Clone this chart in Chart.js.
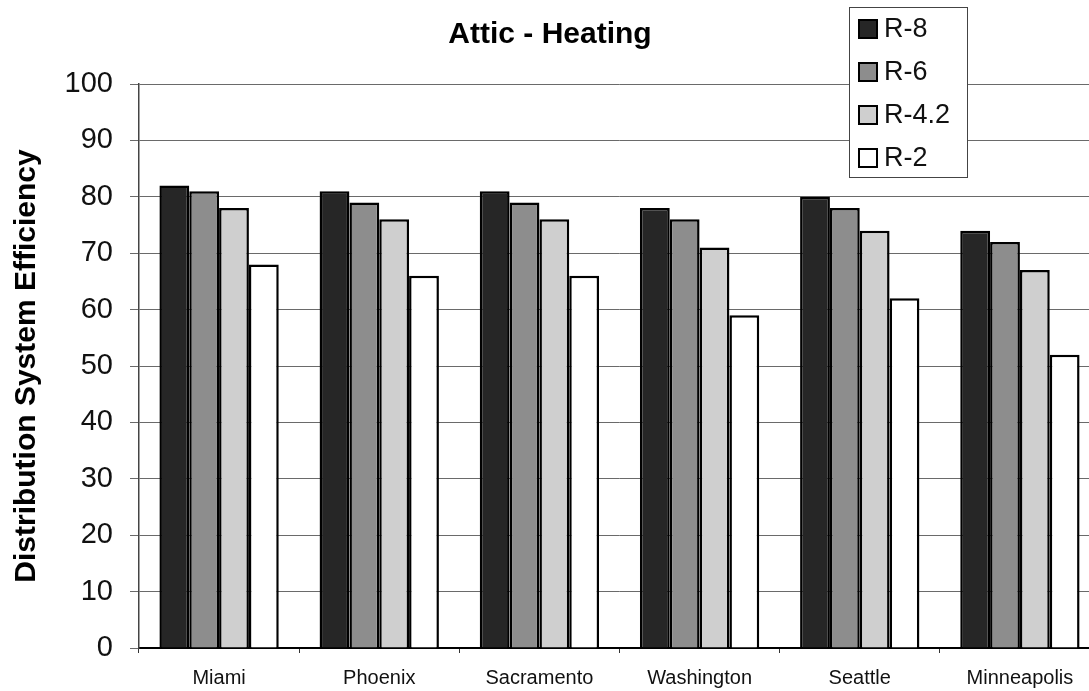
<!DOCTYPE html>
<html>
<head>
<meta charset="utf-8">
<title>Attic - Heating</title>
<script src="https://cdn.jsdelivr.net/npm/chart.js@4.4.1/dist/chart.umd.min.js"></script>
<style>
    html, body { margin: 0; padding: 0; background: #fff; overflow: hidden; }
    #wrap { position: absolute; left: 0; top: 0; width: 1100px; height: 691px; }
</style>
</head>
<body>
<div id="wrap"><canvas id="myChart" width="1100" height="691"></canvas></div>
<script>
// Dados do grafico
const cities = ['Miami', 'Phoenix', 'Sacramento', 'Washington', 'Seattle', 'Minneapolis'];
const seriesNames = ['R-8', 'R-6', 'R-4.2', 'R-2'];
const r8 = [82, 81, 81, 78, 80, 74];
const r6 = [81, 79, 79, 76, 78, 72];
const r42 = [78, 76, 76, 71, 74, 67];
const r2 = [68, 66, 66, 59, 62, 52];
const yTicks = [0, 10, 20, 30, 40, 50, 60, 70, 80, 90, 100];

const fills = ['#262626', '#8d8d8d', '#cfcfcf', '#ffffff'];
const fontFamily = '"Liberation Sans", Arial, sans-serif';

// Legenda com caixa, desenhada a partir dos datasets
const boxLegend = {
    id: 'boxLegend',
    afterDraw(chart) {
        const ctx = chart.ctx;
        const x = 849, y = 7, w = 118, h = 170;
        ctx.save();
        ctx.fillStyle = '#fff';
        ctx.fillRect(x, y, w, h);
        ctx.strokeStyle = '#444';
        ctx.lineWidth = 1;
        ctx.strokeRect(x + 0.5, y + 0.5, w, h);
        ctx.font = '27px ' + fontFamily;
        ctx.textBaseline = 'middle';
        ctx.textAlign = 'left';
        chart.data.datasets.forEach((ds, i) => {
            const cy = 29 + i * 43;
            ctx.fillStyle = ds.backgroundColor;
            ctx.fillRect(859, cy - 9, 18, 18);
            ctx.strokeStyle = '#000';
            ctx.lineWidth = 2;
            ctx.strokeRect(859, cy - 9, 18, 18);
            ctx.fillStyle = '#111';
            ctx.fillText(ds.label, 884, cy + 1);
        });
        ctx.restore();
    }
};

document.addEventListener('DOMContentLoaded', function() {
    const ctx = document.getElementById('myChart');
    const values = [r8, r6, r42, r2];

    new Chart(ctx, {
        type: 'bar',
        data: {
            labels: cities,
            datasets: seriesNames.map((name, i) => ({
                label: name,
                data: values[i],
                backgroundColor: fills[i],
                borderColor: '#000',
                borderWidth: 2.5,
                barPercentage: 1,
                categoryPercentage: 0.745
            }))
        },
        options: {
            responsive: false,
            animation: false,
            devicePixelRatio: 1,
            layout: { padding: { left: 0, right: 0, top: 0, bottom: 1 } },
            plugins: {
                legend: { display: false },
                tooltip: { enabled: false },
                title: {
                    display: true,
                    text: 'Attic - Heating',
                    color: '#000',
                    font: { family: fontFamily, size: 30, weight: 'bold' },
                    padding: { top: 17, bottom: 31 }
                }
            },
            scales: {
                x: {
                    offset: true,
                    afterFit: axis => { axis.height = 42; },
                    grid: {
                        offset: true,
                        drawOnChartArea: false,
                        drawTicks: true,
                        tickLength: 5,
                        color: '#333'
                    },
                    border: { color: '#000', width: 2 },
                    ticks: {
                        color: '#111',
                        padding: 13,
                        maxRotation: 0,
                        font: { family: fontFamily, size: 20 }
                    }
                },
                y: {
                    min: 0,
                    max: 100,
                    afterBuildTicks: axis => { axis.ticks = yTicks.map(v => ({ value: v })); },
                    afterFit: axis => { axis.width = 139; },
                    grid: { color: '#6a6a6a', lineWidth: 1, tickLength: 9 },
                    border: { color: '#444', width: 1.5 },
                    ticks: {
                        color: '#111',
                        padding: 17,
                        font: { family: fontFamily, size: 29 }
                    },
                    title: {
                        display: true,
                        text: 'Distribution System Efficiency',
                        color: '#000',
                        padding: { top: 9, bottom: 0 },
                        font: { family: fontFamily, size: 30, weight: 'bold' }
                    }
                }
            }
        },
        plugins: [boxLegend]
    });
});
</script>
</body>
</html>
